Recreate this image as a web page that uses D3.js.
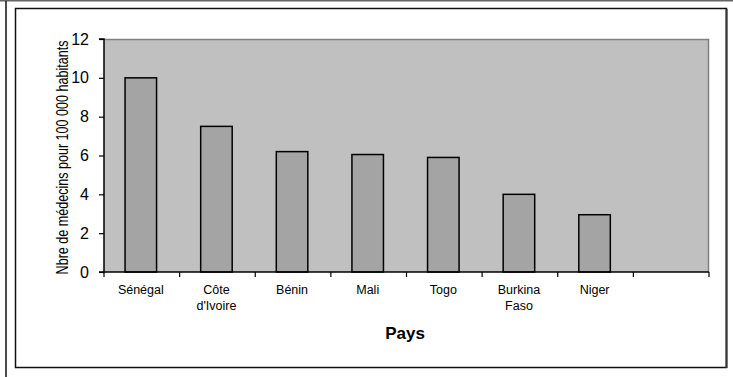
<!DOCTYPE html>
<html>
<head>
<meta charset="utf-8">
<script src="https://cdn.jsdelivr.net/npm/d3@7"></script>
<style>
  html, body { margin: 0; padding: 0; background: #fff; }
  svg { display: block; }
  text { font-family: "Liberation Sans", Arial, sans-serif; fill: #000; }
</style>
</head>
<body>
<svg id="chart" width="733" height="377"></svg>
<script>
// Physicians per 100 000 inhabitants by country
const categories = ["Sénégal", "Côte d'Ivoire", "Bénin", "Mali", "Togo", "Burkina Faso", "Niger", ""];
const values = [10, 7.5, 6.2, 6.05, 5.9, 4.0, 2.95, null];
const categoryLines = [["Sénégal"], ["Côte", "d'Ivoire"], ["Bénin"], ["Mali"], ["Togo"], ["Burkina", "Faso"], ["Niger"], []];
const yTicks = [0, 2, 4, 6, 8, 10, 12];
const yTitle = "Nbre de médecins pour 100 000 habitants";
const xTitle = "Pays";

const svg = d3.select("#chart");
const plot = { left: 104, right: 709, top: 39, bottom: 272 };

// outer page frame
svg.append("line").attr("x1", 0).attr("x2", 733).attr("y1", 0.5).attr("y2", 0.5)
  .attr("stroke", "#666").attr("stroke-width", 2);
svg.append("line").attr("x1", 6).attr("x2", 6).attr("y1", 1).attr("y2", 377)
  .attr("stroke", "#111").attr("stroke-width", 1.5);

// chart frame
svg.append("rect").attr("x", 15.5).attr("y", 8.5).attr("width", 711).attr("height", 359)
  .attr("fill", "#fff").attr("stroke", "#111").attr("stroke-width", 1.5);
svg.append("line").attr("x1", 726.5).attr("x2", 726.5).attr("y1", 9).attr("y2", 368)
  .attr("stroke", "#333").attr("stroke-width", 2);

const x = d3.scaleBand().domain(d3.range(categories.length))
  .range([plot.left, plot.right]).paddingInner(0).paddingOuter(0);
const y = d3.scaleLinear().domain([0, 12]).range([plot.bottom, plot.top]);

// plot background
svg.append("rect").attr("x", plot.left).attr("y", plot.top)
  .attr("width", plot.right - plot.left).attr("height", plot.bottom - plot.top)
  .attr("fill", "#C0C0C0");
svg.append("path")
  .attr("d", `M${plot.left},${plot.top + 0.5}H${plot.right - 0.5}V${plot.bottom}`)
  .attr("fill", "none").attr("stroke", "#808080").attr("stroke-width", 1.5);

// bars
const barW = x.bandwidth() / 2.4;
svg.append("g").selectAll("rect")
  .data(values.map((v, i) => ({ v, i })).filter(d => d.v != null))
  .join("rect")
  .attr("x", d => x(d.i) + (x.bandwidth() - barW) / 2 - 1)
  .attr("y", d => y(d.v))
  .attr("width", barW)
  .attr("height", d => y(0) - y(d.v))
  .attr("fill", "#A4A4A4")
  .attr("stroke", "#000")
  .attr("stroke-width", 1.5);

// y axis
const yAxis = d3.axisLeft(y).tickValues(yTicks).tickSize(5).tickPadding(10).tickFormat(d3.format("d"));
const gy = svg.append("g").attr("transform", `translate(${plot.left},0)`).call(yAxis);
gy.select(".domain").attr("stroke", "#000").attr("stroke-width", 1.5).attr("d", `M-5,${plot.top}H0V${plot.bottom}H-5`);
gy.selectAll(".tick line").attr("stroke", "#000").attr("stroke-width", 1.2);
gy.selectAll(".tick text").attr("font-size", 16).attr("font-family", "Liberation Sans, Arial, sans-serif").attr("fill", "#000");

// x axis line and boundary ticks
const bounds = d3.range(categories.length + 1).map(i => plot.left + i * x.step());
svg.append("line").attr("x1", plot.left).attr("x2", plot.right).attr("y1", plot.bottom).attr("y2", plot.bottom)
  .attr("stroke", "#000").attr("stroke-width", 1.5);
svg.append("g").selectAll("line").data(bounds).join("line")
  .attr("x1", d => d).attr("x2", d => d)
  .attr("y1", plot.bottom).attr("y2", plot.bottom + 5)
  .attr("stroke", "#000").attr("stroke-width", 1.2);

// category labels
const lab = svg.append("g").selectAll("text").data(categoryLines).join("text")
  .attr("text-anchor", "middle")
  .attr("font-size", 12.5)
  .attr("transform", (d, i) => `translate(${x(i) + x.bandwidth() / 2 - 1},${plot.bottom + 22})`);
lab.selectAll("tspan").data(d => d).join("tspan")
  .attr("x", 0).attr("dy", (d, i) => i === 0 ? 0 : 16).text(d => d);

// axis titles
svg.append("text").attr("x", 405).attr("y", 339).attr("text-anchor", "middle")
  .attr("font-size", 17).attr("font-weight", "bold").text(xTitle);

// condensed vertical title: squeeze horizontally to fit the plot height
const yt = svg.append("text")
  .attr("text-anchor", "middle")
  .attr("font-size", 16)
  .text(yTitle);
const natural = yt.node().getComputedTextLength();
const squeeze = 234 / natural;
yt.attr("transform", `translate(68,${(plot.top + plot.bottom) / 2 + 2}) rotate(-90) scale(${squeeze},1)`);
</script>
</body>
</html>
